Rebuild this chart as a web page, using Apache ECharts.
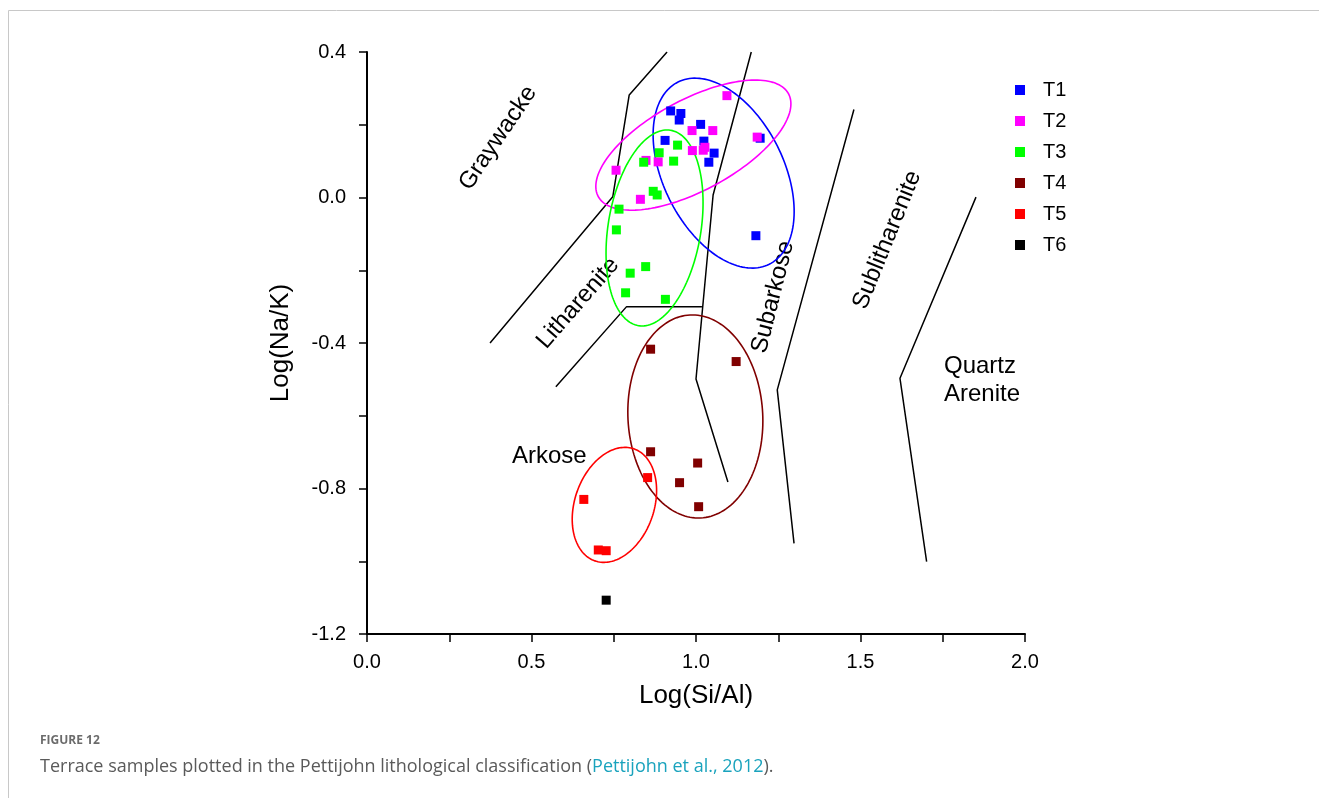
<!DOCTYPE html>
<html>
<head>
<meta charset="utf-8">
<script src="https://cdn.jsdelivr.net/npm/echarts@6/dist/echarts.min.js"></script>
<style>
  html, body { margin: 0; padding: 0; background: #ffffff; }
  #chart { width: 1319px; height: 798px; }
</style>
</head>
<body>
<div id="chart"></div>
<script>
// Sample groups: [Log(Si/Al), Log(Na/K)]
const T1 = [[0.923, 0.238], [0.954, 0.231], [0.949, 0.213], [1.014, 0.201], [0.906, 0.157],
            [1.024, 0.155], [1.055, 0.122], [1.039, 0.097], [1.195, 0.163], [1.182, -0.105]];
const T2 = [[1.094, 0.280], [0.988, 0.184], [1.051, 0.184], [1.186, 0.166], [0.989, 0.129],
            [1.027, 0.138], [1.022, 0.130], [0.848, 0.102], [0.885, 0.098], [0.757, 0.075],
            [0.831, -0.005]];
const T3 = [[0.944, 0.144], [0.888, 0.123], [0.841, 0.097], [0.932, 0.100], [0.870, 0.017],
            [0.882, 0.007], [0.766, -0.032], [0.758, -0.089], [0.847, -0.190], [0.800, -0.208],
            [0.786, -0.262], [0.907, -0.280]];
const T4 = [[0.862, -0.417], [1.122, -0.451], [0.862, -0.699], [1.005, -0.730], [0.950, -0.784],
            [1.008, -0.850]];
const T5 = [[0.853, -0.770], [0.659, -0.830], [0.703, -0.969], [0.727, -0.971]];
const T6 = [[0.727, -1.107]];

const groupNames = ['T1', 'T2', 'T3', 'T4', 'T5', 'T6'];
const groupData = [T1, T2, T3, T4, T5, T6];

// Field boundaries of the Pettijohn diagram
const graywackeBoundary = [[0.374, -0.400], [0.747, 0.002], [0.797, 0.282], [0.912, 0.400]];
const lithareniteBase = [[0.574, -0.520], [0.789, -0.300], [1.018, -0.300]];
const subarkoseBoundary = [[1.168, 0.400], [1.052, 0.007], [1.000, -0.499], [1.097, -0.782]];
const sublithareniteBoundary = [[1.480, 0.242], [1.247, -0.529], [1.298, -0.951]];
const quartzBoundary = [[1.851, 0.001], [1.620, -0.497], [1.701, -1.001]];
const boundaries = [graywackeBoundary, lithareniteBase, subarkoseBoundary,
                    sublithareniteBoundary, quartzBoundary];

// Group envelopes: centre [x, y] and two conjugate semi-axes [ux, uy], [vx, vy] in data units
const envelopeT1 = [1.084, 0.067, 0.1386, -0.2504, -0.1635, -0.0740];
const envelopeT2 = [0.992, 0.144, 0.2891, 0.1413, 0.0657, -0.1097];
const envelopeT3 = [0.874, -0.0838, 0.0486, 0.2686, 0.1392, -0.0206];
const envelopeT4 = [0.998, -0.602, 0.0161, -0.2790, -0.2046, -0.0096];
const envelopeT5 = [0.752, -0.845, 0.0593, 0.1540, 0.1137, -0.0357];
const envelopes = [envelopeT1, envelopeT2, envelopeT3, envelopeT4, envelopeT5];

const xTicks = { min: 0, max: 2, interval: 0.5 };
const yTicks = { min: -1.2, max: 0.4, interval: 0.4 };

const colors = ['#0000ff', '#ff00ff', '#00ff00', '#800000', '#ff0000', '#000000'];
const FONT = '"Liberation Sans", Arial, sans-serif';

const series = [];

boundaries.forEach((pts, i) => {
  series.push({
    type: 'line',
    name: 'boundary' + i,
    data: pts,
    symbol: 'none',
    silent: true,
    lineStyle: { color: '#000', width: 1.5 },
    z: 1
  });
});

envelopes.forEach((env, i) => {
  series.push({
    type: 'custom',
    name: 'envelope' + i,
    coordinateSystem: 'cartesian2d',
    data: [env],
    encode: { x: 0, y: 1 },
    silent: true,
    z: 2,
    renderItem: function (params, api) {
      const cx = api.value(0), cy = api.value(1);
      const ux = api.value(2), uy = api.value(3);
      const vx = api.value(4), vy = api.value(5);
      const pts = [];
      const steps = 160;
      for (let k = 0; k <= steps; k++) {
        const t = (k / steps) * Math.PI * 2;
        const c = Math.cos(t), s = Math.sin(t);
        pts.push(api.coord([cx + ux * c + vx * s, cy + uy * c + vy * s]));
      }
      return {
        type: 'polyline',
        shape: { points: pts },
        style: { fill: null, stroke: colors[i], lineWidth: 1.6 }
      };
    }
  });
});

groupData.forEach((pts, i) => {
  series.push({
    type: 'scatter',
    name: groupNames[i],
    data: pts,
    symbol: 'rect',
    symbolSize: 9,
    itemStyle: { color: colors[i], opacity: 1 },
    z: 3
  });
});

const chart = echarts.init(document.getElementById('chart'), null, { renderer: 'canvas' });

chart.setOption({
  animation: false,
  backgroundColor: '#ffffff',
  grid: { left: 367, right: 294, top: 52, bottom: 164, containLabel: false },
  xAxis: {
    type: 'value',
    min: xTicks.min, max: xTicks.max, interval: xTicks.interval,
    name: 'Log(Si/Al)',
    nameLocation: 'middle',
    nameGap: 49,
    nameTextStyle: { fontFamily: FONT, fontSize: 26, color: '#000' },
    axisLine: { onZero: false, lineStyle: { color: '#000', width: 2 } },
    axisTick: { show: true, length: 8, lineStyle: { color: '#000', width: 1.5 } },
    minorTick: { show: true, splitNumber: 2, length: 8, lineStyle: { color: '#000', width: 1.5 } },
    axisLabel: { fontFamily: FONT, fontSize: 20, color: '#000', margin: 18,
                 formatter: v => v.toFixed(1) },
    splitLine: { show: false }
  },
  yAxis: {
    type: 'value',
    min: yTicks.min, max: yTicks.max, interval: yTicks.interval,
    name: 'Log(Na/K)',
    nameLocation: 'middle',
    nameGap: 73,
    nameTextStyle: { fontFamily: FONT, fontSize: 26, color: '#000' },
    axisLine: { onZero: false, lineStyle: { color: '#000', width: 2 } },
    axisTick: { show: true, length: 8, lineStyle: { color: '#000', width: 1.5 } },
    minorTick: { show: true, splitNumber: 2, length: 8, lineStyle: { color: '#000', width: 1.5 } },
    axisLabel: { fontFamily: FONT, fontSize: 20, color: '#000', margin: 21,
                 formatter: v => v.toFixed(1) },
    splitLine: { show: false }
  },
  legend: {
    data: groupNames,
    orient: 'vertical',
    left: 1010,
    top: 75,
    itemWidth: 10,
    itemHeight: 10,
    itemGap: 11,
    icon: 'rect',
    textStyle: { fontFamily: FONT, fontSize: 20, color: '#000', padding: [0, 0, 0, 13], lineHeight: 20 }
  },
  graphic: [
    { type: 'rect', silent: true,
      shape: { x: 8.5, y: 10.5, width: 1400, height: 900 },
      style: { fill: null, stroke: '#c8c8c8', lineWidth: 1 } },
    { type: 'text', x: 498, y: 138, rotation: 56 * Math.PI / 180, silent: true,
      style: { text: 'Graywacke', font: '24px ' + FONT, fill: '#000', textAlign: 'center', textVerticalAlign: 'middle' } },
    { type: 'text', x: 578, y: 303, rotation: 49 * Math.PI / 180, silent: true,
      style: { text: 'Litharenite', font: '24px ' + FONT, fill: '#000', textAlign: 'center', textVerticalAlign: 'middle' } },
    { type: 'text', x: 773, y: 297, rotation: 76 * Math.PI / 180, silent: true,
      style: { text: 'Subarkose', font: '24px ' + FONT, fill: '#000', textAlign: 'center', textVerticalAlign: 'middle' } },
    { type: 'text', x: 887, y: 240, rotation: 68 * Math.PI / 180, silent: true,
      style: { text: 'Sublitharenite', font: '24px ' + FONT, fill: '#000', textAlign: 'center', textVerticalAlign: 'middle' } },
    { type: 'text', x: 512, y: 456, silent: true,
      style: { text: 'Arkose', font: '24px ' + FONT, fill: '#000', textAlign: 'left', textVerticalAlign: 'middle' } },
    { type: 'text', x: 944, y: 366, silent: true,
      style: { text: 'Quartz', font: '24px ' + FONT, fill: '#000', textAlign: 'left', textVerticalAlign: 'middle' } },
    { type: 'text', x: 944, y: 394, silent: true,
      style: { text: 'Arenite', font: '24px ' + FONT, fill: '#000', textAlign: 'left', textVerticalAlign: 'middle' } },
    { type: 'text', x: 40, y: 741, silent: true,
      style: { text: 'FIGURE 12', font: 'bold 12px "Open Sans", sans-serif', fill: '#6b6b6b', textAlign: 'left', textVerticalAlign: 'middle' } },
    { type: 'text', x: 40, y: 767, silent: true,
      style: {
        text: '{a|Terrace samples plotted in the Pettijohn lithological classification (}{b|Pettijohn et al., 2012}{a|).}',
        textAlign: 'left', textVerticalAlign: 'middle',
        rich: {
          a: { font: '18px "Open Sans", sans-serif', fill: '#5a5a5a' },
          b: { font: '18px "Open Sans", sans-serif', fill: '#1aa3bd' }
        }
      } }
  ],
  series: series
});
</script>
</body>
</html>
